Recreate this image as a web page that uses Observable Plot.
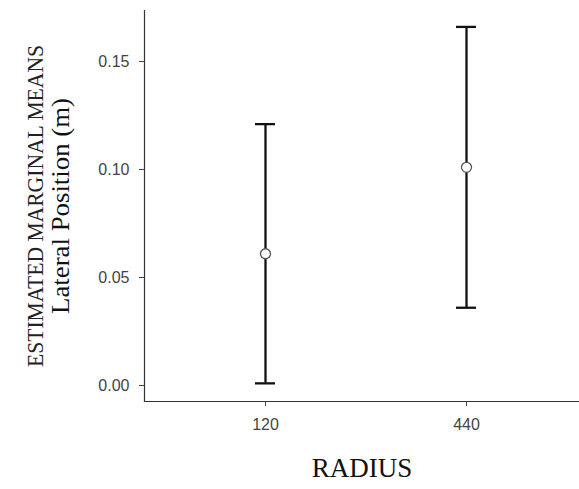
<!DOCTYPE html>
<html>
<head>
<meta charset="utf-8">
<script src="https://cdn.jsdelivr.net/npm/d3@7"></script>
<script src="https://cdn.jsdelivr.net/npm/@observablehq/plot@0.6"></script>
<style>
  html, body { margin: 0; padding: 0; background: #fff; }
</style>
</head>
<body>
<div id="chart"></div>
<script>
const radius = ["120", "440"];
const means = [0.061, 0.101];
const lower = [0.001, 0.036];
const upper = [0.121, 0.166];
const yTicks = [0, 0.05, 0.10, 0.15];

const data = radius.map((r, i) => ({radius: r, mean: means[i], lo: lower[i], hi: upper[i]}));

const serif = "'Liberation Serif', 'Times New Roman', serif";
const sans = "'Liberation Sans', Arial, Helvetica, sans-serif";

const plot = Plot.plot({
  width: 579,
  height: 489,
  marginLeft: 144,
  marginRight: 0,
  marginTop: 10,
  marginBottom: 88,
  style: {fontFamily: sans, fontSize: "16px", background: "#fff"},
  x: {type: "point", domain: radius, range: [265, 466], padding: 0},
  y: {domain: [-0.0074, 0.1736]},
  marks: [
    Plot.frame({anchor: "left", stroke: "#333", strokeWidth: 1.2}),
    Plot.frame({anchor: "bottom", stroke: "#333", strokeWidth: 1.2}),
    Plot.axisY(yTicks, {tickFormat: d3.format(".2f"), tickSize: 5, tickPadding: 10, fontSize: 16, fill: "#444", stroke: "#444", label: null}),
    Plot.axisX({tickSize: 5, tickPadding: 12, fontSize: 16, fill: "#444", stroke: "#444", label: null}),
    Plot.ruleX(data, {x: "radius", y1: "lo", y2: "hi", stroke: "#111", strokeWidth: 2.3}),
    Plot.ruleY(data, {x1: "radius", x2: "radius", y: "hi", stroke: "#111", strokeWidth: 2.3, insetLeft: -10, insetRight: -10}),
    Plot.ruleY(data, {x1: "radius", x2: "radius", y: "lo", stroke: "#111", strokeWidth: 2.3, insetLeft: -10, insetRight: -10}),
    Plot.dot(data, {x: "radius", y: "mean", r: 5, fill: "#fff", stroke: "#555", strokeWidth: 1.3}),
    Plot.text(["ESTIMATED MARGINAL MEANS"], {frameAnchor: "left", textAnchor: "middle", rotate: -90, dx: -109, fontSize: 24, fontFamily: serif, fill: "#222", className: "estlab"}),
    Plot.text(["Lateral Position (m)"], {frameAnchor: "left", textAnchor: "middle", rotate: -90, dx: -84, fontSize: 25, fontFamily: serif, fill: "#111", className: "latlab"}),
    Plot.text(["RADIUS"], {frameAnchor: "bottom", dy: 75.5, fontSize: 27, fontFamily: serif, fill: "#111"})
  ]
});

d3.select(plot).selectAll(".estlab text").attr("textLength", 322).attr("lengthAdjust", "spacingAndGlyphs");
d3.select(plot).selectAll(".latlab text").attr("textLength", 216).attr("lengthAdjust", "spacingAndGlyphs");

document.getElementById("chart").appendChild(plot);
</script>
</body>
</html>
